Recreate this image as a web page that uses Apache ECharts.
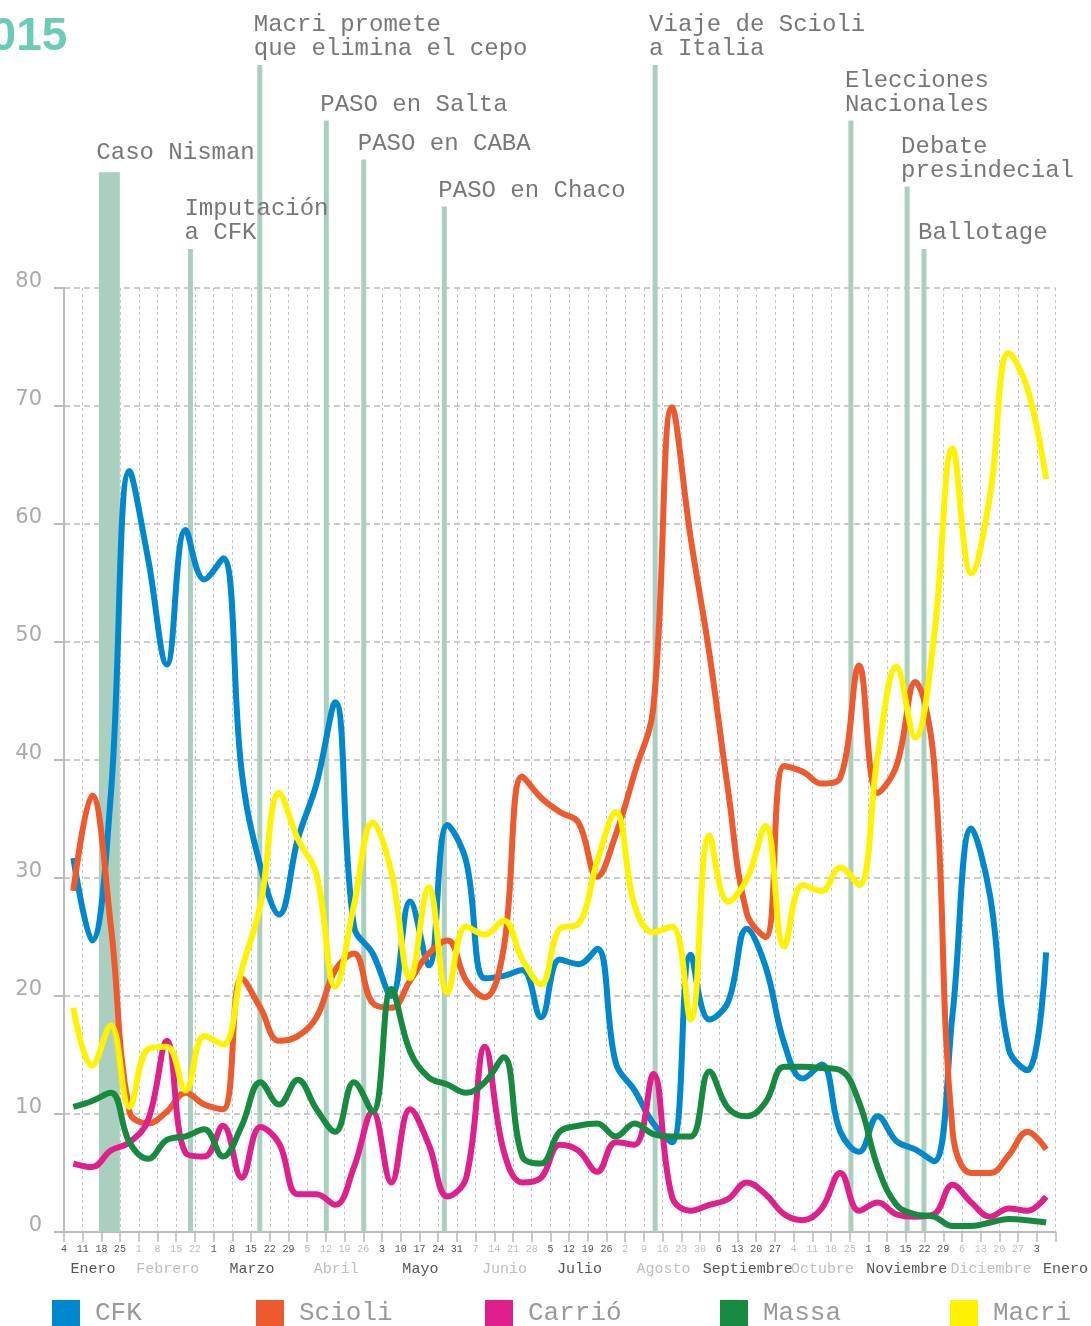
<!DOCTYPE html>
<html>
<head>
<meta charset="utf-8">
<title>2015</title>
<script src="https://cdn.jsdelivr.net/npm/echarts@6/dist/echarts.min.js"></script>
<style>
  html, body { margin: 0; padding: 0; background: #fff; }
  #chart { width: 1091px; height: 1326px; }
</style>
</head>
<body>
<div id="chart"></div>
<script>
// weekly tick labels (Sunday of each week, 4 Jan 2015 .. 3 Jan 2016)
const weekDays = [4, 11, 18, 25, 1, 8, 15, 22, 1, 8, 15, 22, 29, 5, 12, 19, 26, 3, 10, 17, 24, 31,
  7, 14, 21, 28, 5, 12, 19, 26, 2, 9, 16, 23, 30, 6, 13, 20, 27, 4, 11, 18, 25, 1, 8, 15, 22, 29,
  6, 13, 20, 27, 3];
const monthNames = ['Enero', 'Febrero', 'Marzo', 'Abril', 'Mayo', 'Junio', 'Julio', 'Agosto',
  'Septiembre', 'Octubre', 'Noviembre', 'Diciembre', 'Enero'];
const monthWeeks = [4, 4, 5, 4, 5, 4, 4, 5, 4, 4, 5, 4, 1];

// weekly values, one per week
const cfk = [31.7, 24.7, 37, 64.5, 57, 48.1, 59.5, 55.3, 57.1, 39, 31, 26.9, 33.3, 38, 44.9, 25.9,
  23.6, 20, 28, 22.6, 34.5, 31.4, 21.5, 21.7, 22.2, 18.2, 23.1, 22.7, 24, 14.3, 12, 9.2, 7.6, 23.5,
  18, 19.5, 25.7, 22.5, 16, 13, 14.2, 8.5, 6.8, 9.8, 7.7, 7, 6, 18.5, 34.2, 28.5, 15.5, 13.7, 23.7];
const scioli = [28.9, 37, 26, 10.2, 9.2, 10.2, 11.8, 10.8, 10.4, 21.5, 19, 16.2, 16.6, 18.2, 22.2,
  23.6, 19.4, 19, 21.3, 23.6, 24.7, 21.3, 19.9, 24, 38.6, 36.8, 35.6, 34.7, 30.1, 33.7, 38.9, 44.4,
  69.9, 58.8, 49, 37.4, 27, 25, 39.5, 39, 38, 38.5, 48, 37.2, 39.5, 46.6, 39.9, 8.5, 5, 5, 6.5, 8.5, 7];
const carrio = [5.8, 5.5, 6.9, 7.6, 9.5, 16.2, 6.7, 6.4, 9, 4.6, 8.9, 7.5, 3.2, 3.2, 2.3, 5.5, 10.2,
  4.2, 10.4, 7.4, 3, 4.6, 15.7, 6.9, 4.2, 4.6, 7.4, 6.9, 5.1, 7.6, 7.4, 13.4, 3, 1.8, 2.3, 2.8, 4.2,
  3.2, 1.5, 1, 2, 5, 1.8, 2.5, 1.5, 1.3, 1.5, 4, 2.5, 1.3, 2, 1.8, 3];
const massa = [10.6, 11.1, 11.8, 7.6, 6.2, 7.8, 8.1, 8.7, 6.4, 9, 12.7, 10.8, 12.9, 10.4, 8.5, 12.7,
  10.2, 20.6, 15.3, 13.1, 12.5, 11.8, 12.7, 14.8, 6.4, 5.8, 8.5, 9, 9.2, 8.1, 9.2, 8.3, 8.1, 8.1,
  13.6, 10.5, 9.8, 11, 14, 14, 13.9, 13.7, 11, 5.5, 2.3, 1.5, 1.3, 0.5, 0.5, 0.8, 1.1, 1, 0.8];
const macri = [19, 14.1, 17.5, 10.6, 15.5, 15.7, 12, 16.6, 15.9, 22.2, 27.7, 37.2, 33.3, 30.3, 20.8,
  27.7, 34.7, 30.5, 21.5, 29.2, 20.3, 25.9, 25.2, 26.4, 23.1, 21, 25.7, 26.1, 31.4, 35.6, 27.7, 25.4,
  25.9, 18, 33.6, 28, 29.9, 34.4, 24.2, 29.4, 28.9, 30.9, 29.4, 40.4, 47.9, 41.9, 50.3, 66.4, 55.8,
  62.4, 74.5, 71.5, 63.8];

const seriesNames = ['CFK', 'Scioli', 'Carrió', 'Massa', 'Macri'];
const seriesValues = [cfk, scioli, carrio, massa, macri];

// events (week position on the axis, height of the marker bar)
const eventNames = ['Imputación\na CFK', 'Macri promete\nque elimina el cepo', 'PASO en Salta',
  'PASO en CABA', 'PASO en Chaco', 'Viaje de Scioli\na Italia', 'Elecciones\nNacionales',
  'Debate\npresindecial', 'Ballotage'];
const eventWeek = [6.75, 10.45, 14.0, 16.0, 20.3, 31.55, 42.0, 45.0, 45.9];
const eventTop = [83.3, 98.9, 94.2, 90.9, 86.9, 98.9, 94.2, 88.6, 83.3];
const nismanName = 'Caso Nisman';
const nismanWeek = 2.42;
const nismanTop = 89.8;

const colors = ['#0088cf', '#ec5a2e', '#de1f8c', '#168a3f', '#fff200'];
const eventColor = '#abcfbe';
const legendLeft = [52, 256, 485, 720, 950];
const mono = '"Liberation Mono", "DejaVu Sans Mono", monospace';

const weekMonth = [];
const monthStart = [];
monthWeeks.forEach((n, m) => {
  monthStart.push(weekMonth.length);
  for (let k = 0; k < n; k++) weekMonth.push(m);
});
const lastWeek = weekDays.length; // 53
const monthAt = monthWeeks.map((n, m) =>
  m === monthWeeks.length - 1 ? lastWeek : monthStart[m] + n / 2 - 0.45);

const dark = '#555';
const light = '#bdbdbd';

const chart = echarts.init(document.getElementById('chart'), null, { renderer: 'canvas' });

chart.setOption({
  animation: false,
  title: {
    text: '2015',
    left: -35,
    top: 14,
    padding: 0,
    textStyle: { fontFamily: '"Liberation Sans", Arial, sans-serif', fontWeight: 'bold', fontSize: 46, color: '#6ccbb4' }
  },
  legend: seriesNames.map((name, k) => ({
    data: [name],
    left: legendLeft[k],
    top: 1300,
    padding: 0,
    icon: 'rect',
    itemWidth: 28,
    itemHeight: 26,
    selectedMode: false,
    textStyle: { fontFamily: mono, fontSize: 26, color: '#999', padding: [0, 0, 0, 10] }
  })),
  grid: [
    { left: 64, right: 34, top: 288, bottom: 94 },
    { left: 64, right: 34, top: 52, bottom: 94 }
  ],
  xAxis: [
    {
      type: 'value', gridIndex: 0, min: 0, max: lastWeek, interval: 1,
      axisLine: { lineStyle: { color: '#bbb', width: 2 } },
      axisTick: { length: 10, lineStyle: { color: '#bbb', width: 1.5 } },
      splitLine: { show: true, lineStyle: { type: [3, 3], color: '#c4c4c4', width: 1 } },
      axisLabel: {
        margin: 12,
        fontFamily: mono,
        fontSize: 10,
        showMaxLabel: true,
        formatter: v => (v < weekDays.length ? String(weekDays[v]) : ''),
        color: v => (weekMonth[v] % 2 ? light : dark)
      }
    },
    {
      type: 'value', gridIndex: 0, min: 0, max: lastWeek, position: 'bottom',
      axisLine: { show: false }, axisTick: { show: false }, splitLine: { show: false },
      axisLabel: {
        margin: 30,
        fontFamily: mono,
        fontSize: 15,
        customValues: monthAt,
        formatter: v => {
          const m = monthAt.findIndex(p => Math.abs(p - v) < 1e-6);
          if (m < 0) return '';
          return m === monthAt.length - 1 ? '{last|' + monthNames[m] + '}' : monthNames[m];
        },
        color: v => {
          const m = monthAt.findIndex(p => Math.abs(p - v) < 1e-6);
          return m % 2 ? light : dark;
        },
        rich: { last: { fontFamily: mono, fontSize: 15, color: dark, padding: [0, 0, 0, 20] } }
      }
    },
    { type: 'value', gridIndex: 1, min: 0, max: lastWeek, show: false },
    { type: 'value', gridIndex: 1, min: 0, max: lastWeek, show: false }
  ],
  yAxis: [
    {
      type: 'value', gridIndex: 0, min: 0, max: 80, interval: 10,
      axisLine: { show: true, lineStyle: { color: '#bbb', width: 2 } },
      axisTick: { show: true, length: 10, lineStyle: { color: '#bbb', width: 2 } },
      splitLine: { lineStyle: { type: [6, 4], color: '#bbb', width: 1.5 } },
      axisLabel: {
        margin: 22,
        fontFamily: '"DejaVu Sans", sans-serif',
        fontSize: 21,
        color: '#aaa',
        verticalAlign: 'bottom',
        lineHeight: 12
      }
    },
    { type: 'value', gridIndex: 1, min: 0, max: 100, show: false }
  ],
  series: [
    {
      type: 'bar', xAxisIndex: 2, yAxisIndex: 1, barWidth: 5, z: 1, silent: true,
      itemStyle: { color: eventColor },
      label: {
        show: true, position: 'top', align: 'left', offset: [-6, 0], distance: 4,
        fontFamily: mono, fontSize: 24, lineHeight: 24, color: '#777',
        formatter: p => eventNames[p.dataIndex]
      },
      data: eventWeek.map((w, k) => [w, eventTop[k]])
    },
    {
      type: 'bar', xAxisIndex: 3, yAxisIndex: 1, barWidth: 21, z: 1, silent: true,
      itemStyle: { color: eventColor },
      label: {
        show: true, position: 'top', align: 'left', offset: [-13, 0], distance: 8,
        fontFamily: mono, fontSize: 24, lineHeight: 24, color: '#777',
        formatter: () => nismanName
      },
      data: [[nismanWeek, nismanTop]]
    }
  ].concat(seriesNames.map((name, k) => ({
    name: name,
    type: 'line',
    xAxisIndex: 0,
    yAxisIndex: 0,
    z: 3 + k,
    smooth: 0.4,
    showSymbol: false,
    symbol: 'none',
    color: colors[k],
    lineStyle: { width: 6, color: colors[k] },
    itemStyle: { color: colors[k] },
    data: seriesValues[k].map((v, i) => [i + 0.5, v])
  })))
});
</script>
</body>
</html>
